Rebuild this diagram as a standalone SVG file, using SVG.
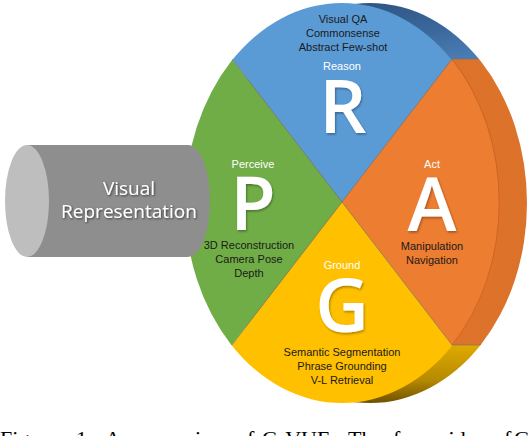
<svg xmlns="http://www.w3.org/2000/svg" width="528" height="436" viewBox="0 0 528 436">
<defs>
<clipPath id="front"><ellipse cx="342" cy="203" rx="157" ry="200"/></clipPath>
<clipPath id="back"><ellipse cx="370" cy="203" rx="157" ry="200"/></clipPath>
<linearGradient id="gBlueSide" x1="0" y1="0" x2="1" y2="1">
<stop offset="0" stop-color="#26466f"/><stop offset="0.6" stop-color="#3b689c"/><stop offset="1" stop-color="#4f86c0"/>
</linearGradient>
<linearGradient id="gOrangeSide" x1="0" y1="0" x2="1" y2="0">
<stop offset="0" stop-color="#e27a30"/><stop offset="1" stop-color="#dc7129"/>
</linearGradient>
<linearGradient id="gYellowSide" x1="0" y1="0" x2="0" y2="1">
<stop offset="0" stop-color="#e0aa00"/><stop offset="0.5" stop-color="#b68a00"/><stop offset="1" stop-color="#4a3300"/>
</linearGradient>
<filter id="sh" x="-20%" y="-20%" width="140%" height="140%">
<feDropShadow dx="1" dy="1.5" stdDeviation="1" flood-color="#000" flood-opacity="0.35"/>
</filter>
<filter id="sh2" x="-20%" y="-20%" width="140%" height="140%">
<feDropShadow dx="1" dy="1" stdDeviation="0.8" flood-color="#000" flood-opacity="0.6"/>
</filter>
</defs>
<style>
.lbl{font-family:"Liberation Sans",Arial,sans-serif;font-size:11px;fill:#ffffff;text-anchor:middle}
.big{font-family:"Open Sans","Liberation Sans",sans-serif;font-size:74px;font-weight:600;fill:#ffffff;text-anchor:middle;filter:url(#sh)}
.task{font-family:"Liberation Sans",Arial,sans-serif;font-size:11px;fill:#1a1a1a;text-anchor:middle}
.cap{font-family:"Liberation Serif","Times New Roman",serif;font-size:22px;fill:#000}
.sep{stroke:#6e6e6e;stroke-width:0.6;fill:none}
</style>

<!-- side (extrusion) of the disk -->
<g id="disk-side" clip-path="url(#back)">
<rect x="200" y="0" width="340" height="59" fill="url(#gBlueSide)"/>
<rect x="200" y="59" width="340" height="286" fill="url(#gOrangeSide)"/>
<rect x="200" y="345" width="340" height="70" fill="url(#gYellowSide)"/>
<line x1="440" y1="59" x2="540" y2="59" class="sep"/>
<line x1="440" y1="345" x2="540" y2="345" class="sep"/>
</g>

<!-- front face sectors -->
<g id="reason">
<polygon points="342,202 148,-50 536,-50" fill="#5b9bd5" clip-path="url(#front)"/>
<text class="task" x="343" y="23">Visual QA</text>
<text class="task" x="343" y="37">Commonsense</text>
<text class="task" x="343" y="51">Abstract Few-shot</text>
<text class="lbl" x="342" y="70">Reason</text>
<text class="big" x="343" y="133">R</text>
</g>
<g id="act">
<polygon points="342,202 536,-50 700,-50 700,455 537,455" fill="#ed7d31" clip-path="url(#front)"/>
<text class="lbl" x="432" y="168">Act</text>
<text class="big" x="432" y="231">A</text>
<text class="task" x="432" y="250">Manipulation</text>
<text class="task" x="432" y="264">Navigation</text>
</g>
<g id="ground">
<polygon points="342,202 537,455 147,455" fill="#ffc000" clip-path="url(#front)"/>
<text class="lbl" x="342" y="269">Ground</text>
<text class="big" x="342" y="332">G</text>
<text class="task" x="342" y="356">Semantic Segmentation</text>
<text class="task" x="342" y="370">Phrase Grounding</text>
<text class="task" x="342" y="384">V-L Retrieval</text>
</g>
<g id="perceive">
<polygon points="342,202 147,455 -10,455 -10,-50 148,-50" fill="#70ad47" clip-path="url(#front)"/>
<text class="lbl" x="253" y="168">Perceive</text>
<text class="big" x="253" y="230">P</text>
<text class="task" x="249" y="249">3D Reconstruction</text>
<text class="task" x="249" y="263">Camera Pose</text>
<text class="task" x="249" y="277">Depth</text>
</g>

<g id="connectors">
<line x1="232" y1="59" x2="342" y2="202" class="sep"/>
<line x1="452" y1="59" x2="342" y2="202" class="sep"/>
<line x1="232" y1="345" x2="342" y2="202" class="sep"/>
<line x1="452" y1="345" x2="342" y2="202" class="sep"/>
<path d="M452,59 A157,200 0 0 1 452,345" fill="none" stroke="#c8621f" stroke-width="0.8"/>
</g>

<!-- cylinder -->
<g id="visual-representation">
<path d="M27,145 L188,145 A22,56 0 0 1 188,257 L27,257 Z" fill="#8e8e8e"/>
<ellipse cx="27" cy="201" rx="22" ry="56" fill="#bebebe"/>
<g filter="url(#sh2)" font-family="Open Sans,Liberation Sans,sans-serif" font-size="19" font-weight="500" fill="#ffffff" text-anchor="middle">
<text x="129" y="195">Visual</text>
<text x="129" y="218">Representation</text>
</g>
</g>

<!-- caption (cut off) -->
<g id="caption" class="cap">
<text x="0" y="446">Figure</text>
<text x="76" y="446">1:</text>
<text x="105" y="446">An</text>
<text x="145" y="446">overview</text>
<text x="236" y="446">of</text>
<text x="262" y="446">G-VUE.</text>
<text x="348" y="446">The</text>
<text x="393" y="446">four</text>
<text x="440" y="446">sides</text>
<text x="493" y="446">of</text>
<text x="514" y="446">G</text>
</g>
</svg>
